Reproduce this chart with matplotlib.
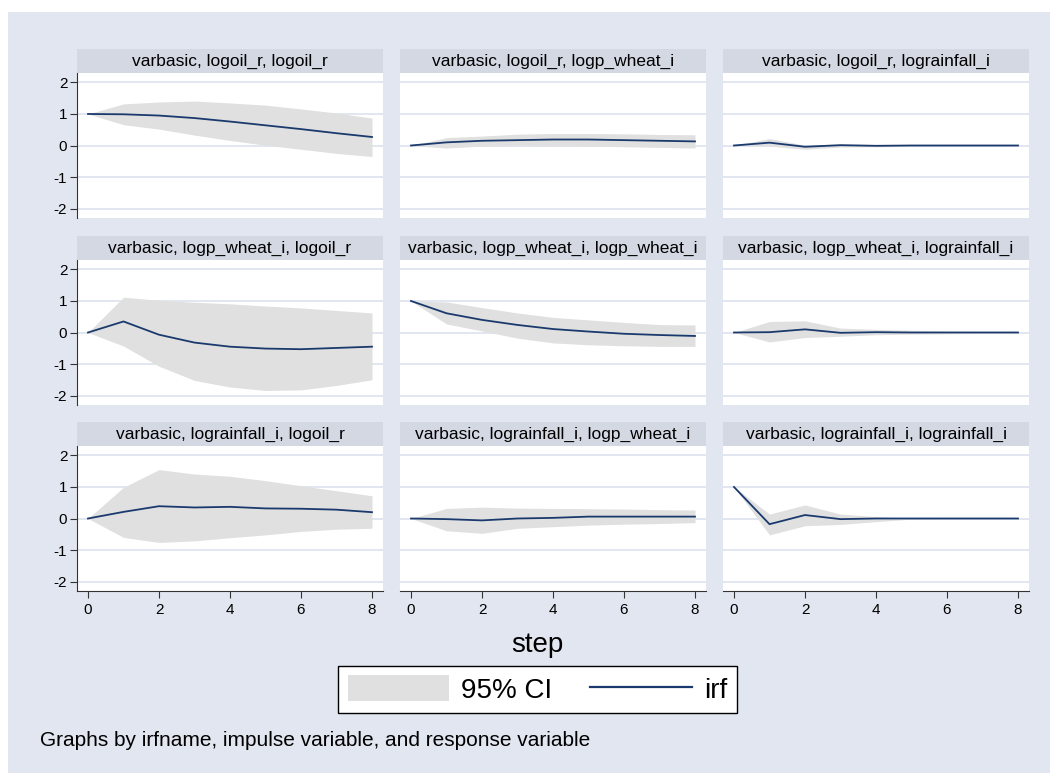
import matplotlib
matplotlib.use("Agg")
import matplotlib.pyplot as plt
from matplotlib.patches import Rectangle, Patch
from matplotlib.lines import Line2D

plt.rcParams['font.family'] = ['Liberation Sans', 'DejaVu Sans']

steps = [0, 1, 2, 3, 4, 5, 6, 7, 8]
variables = ["logoil_r", "logp_wheat_i", "lograinfall_i"]
irfname = "varbasic"

# (impulse, response): irf, lower, upper
irf_oil_oil = [1.0, 0.99, 0.95, 0.87, 0.76, 0.64, 0.52, 0.39, 0.27]
lo_oil_oil = [1.0, 0.66, 0.52, 0.33, 0.16, 0.01, -0.12, -0.25, -0.35]
up_oil_oil = [1.0, 1.32, 1.38, 1.41, 1.35, 1.28, 1.16, 1.03, 0.87]

irf_oil_wheat = [0.0, 0.10, 0.15, 0.17, 0.19, 0.19, 0.17, 0.15, 0.13]
lo_oil_wheat = [0.0, -0.08, -0.02, 0.0, -0.01, -0.02, -0.04, -0.06, -0.08]
up_oil_wheat = [0.0, 0.25, 0.30, 0.36, 0.38, 0.38, 0.37, 0.35, 0.34]

irf_oil_rain = [0.0, 0.09, -0.04, 0.01, -0.01, 0.0, 0.0, 0.0, 0.0]
lo_oil_rain = [0.0, -0.02, -0.12, -0.05, -0.04, -0.03, -0.02, -0.02, -0.02]
up_oil_rain = [0.0, 0.22, 0.01, 0.05, 0.03, 0.03, 0.02, 0.02, 0.02]

irf_wheat_oil = [0.0, 0.35, -0.07, -0.32, -0.45, -0.51, -0.53, -0.49, -0.45]
lo_wheat_oil = [0.0, -0.43, -1.07, -1.52, -1.73, -1.84, -1.82, -1.68, -1.50]
up_wheat_oil = [0.0, 1.12, 1.02, 0.96, 0.91, 0.84, 0.78, 0.70, 0.62]

irf_wheat_wheat = [1.0, 0.61, 0.40, 0.24, 0.11, 0.03, -0.04, -0.08, -0.11]
lo_wheat_wheat = [1.0, 0.27, 0.05, -0.18, -0.33, -0.39, -0.42, -0.44, -0.44]
up_wheat_wheat = [1.0, 0.97, 0.79, 0.62, 0.48, 0.40, 0.32, 0.25, 0.24]

irf_wheat_rain = [0.0, 0.01, 0.10, -0.01, 0.01, 0.0, 0.0, 0.0, 0.0]
lo_wheat_rain = [0.0, -0.30, -0.16, -0.12, -0.07, -0.05, -0.04, -0.03, -0.03]
up_wheat_rain = [0.0, 0.35, 0.37, 0.14, 0.10, 0.07, 0.05, 0.04, 0.04]

irf_rain_oil = [0.0, 0.21, 0.39, 0.35, 0.37, 0.32, 0.31, 0.28, 0.20]
lo_rain_oil = [0.0, -0.60, -0.76, -0.71, -0.61, -0.52, -0.41, -0.34, -0.31]
up_rain_oil = [0.0, 0.99, 1.55, 1.41, 1.34, 1.20, 1.04, 0.88, 0.72]

irf_rain_wheat = [0.0, -0.02, -0.06, 0.0, 0.02, 0.06, 0.06, 0.06, 0.06]
lo_rain_wheat = [0.0, -0.39, -0.47, -0.31, -0.26, -0.21, -0.18, -0.16, -0.13]
up_rain_wheat = [0.0, 0.32, 0.36, 0.33, 0.32, 0.31, 0.30, 0.28, 0.27]

irf_rain_rain = [1.0, -0.18, 0.11, -0.02, 0.0, 0.0, 0.0, 0.0, 0.0]
lo_rain_rain = [1.0, -0.52, -0.23, -0.19, -0.10, -0.02, 0.0, 0.0, 0.0]
up_rain_rain = [1.0, 0.14, 0.43, 0.14, 0.06, 0.01, 0.0, 0.0, 0.0]

panels = [
    [(irf_oil_oil, lo_oil_oil, up_oil_oil), (irf_oil_wheat, lo_oil_wheat, up_oil_wheat), (irf_oil_rain, lo_oil_rain, up_oil_rain)],
    [(irf_wheat_oil, lo_wheat_oil, up_wheat_oil), (irf_wheat_wheat, lo_wheat_wheat, up_wheat_wheat), (irf_wheat_rain, lo_wheat_rain, up_wheat_rain)],
    [(irf_rain_oil, lo_rain_oil, up_rain_oil), (irf_rain_wheat, lo_rain_wheat, up_rain_wheat), (irf_rain_rain, lo_rain_rain, up_rain_rain)],
]

yticks = [-2, -1, 0, 1, 2]
xticks = [0, 2, 4, 6, 8]

BG = "#E1E6F0"
STRIP = "#D3D8E3"
GRID = "#E1E6F0"
CI = "#E0E0E0"
LINE = "#1A3A6E"

W, H = 1050, 773
fig = plt.figure(figsize=(W / 100, H / 100), dpi=100)
fig.patch.set_facecolor("white")
fig.patches.append(Rectangle((8 / W, 0), 1 - 8 / W, 1 - 12 / H, transform=fig.transFigure,
                             facecolor=BG, edgecolor="none", zorder=-10))

col_left = [77, 400, 723]
row_top = [73, 260, 446]
pw, ph = 306, 145
strip_h = 24

for r in range(3):
    for c in range(3):
        irf, lo, up = panels[r][c]
        ax = fig.add_axes([col_left[c] / W, 1 - (row_top[r] + ph) / H, pw / W, ph / H])
        ax.set_facecolor("white")
        ax.fill_between(steps, lo, up, color=CI, linewidth=0, zorder=2)
        ax.plot(steps, irf, color=LINE, linewidth=1.3, zorder=3)
        ax.set_xlim(-0.31, 8.31)
        ax.set_ylim(-2.3, 2.3)
        ax.set_yticks(yticks)
        ax.set_xticks(xticks)
        for yv in yticks:
            ax.axhline(yv, color=GRID, linewidth=1.4, zorder=1)
        for s in ["top", "right"]:
            ax.spines[s].set_visible(False)
        ax.spines["left"].set_visible(c == 0)
        ax.spines["bottom"].set_visible(r == 2)
        ax.spines["left"].set_color("#333333")
        ax.spines["bottom"].set_color("#333333")
        ax.tick_params(axis="y", left=(c == 0), labelleft=(c == 0), length=5,
                       width=0.8, color="#333333", labelsize=11, pad=2)
        ax.tick_params(axis="x", bottom=(r == 2), labelbottom=(r == 2), length=5,
                       width=0.8, color="#333333", labelsize=11, pad=4)
        ax.set_yticklabels([str(v) for v in yticks])
        ax.add_patch(Rectangle((0, 1), 1, strip_h / ph, transform=ax.transAxes,
                               facecolor=STRIP, edgecolor="none", clip_on=False))
        ax.text(0.5, 1 + strip_h / ph / 2, f"{irfname}, {variables[r]}, {variables[c]}",
                transform=ax.transAxes, ha="center", va="center", fontsize=12.5,
                color="black")

fig.text(537 / W, 1 - 645 / H, "step", ha="center", va="center", fontsize=20)

handles = [Patch(facecolor=CI, edgecolor="none"), Line2D([0], [0], color=LINE, linewidth=1.6)]
leg = fig.legend(handles, ["95% CI", "irf"], loc="center", ncol=2,
                 bbox_to_anchor=(537.5 / W, 1 - 689.5 / H), fontsize=20,
                 frameon=True, fancybox=False, edgecolor="black", facecolor="white",
                 framealpha=1, handlelength=3.65, handleheight=1.05, handletextpad=0.43,
                 columnspacing=1.37, borderpad=0.35, borderaxespad=0)
leg.get_frame().set_linewidth(1.0)

fig.text(40 / W, 1 - 740 / H, "Graphs by irfname, impulse variable, and response variable",
         ha="left", va="center", fontsize=15)

fig.savefig("out.png", dpi=100, facecolor=fig.get_facecolor())
